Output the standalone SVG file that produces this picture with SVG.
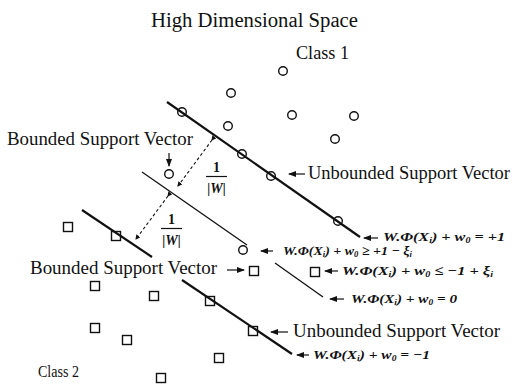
<svg xmlns="http://www.w3.org/2000/svg" width="517" height="385" viewBox="0 0 517 385">
<defs>
<style>
.t{font-family:"Liberation Serif","Times New Roman",serif;fill:#111;font-size:18.5px}
.m{font-family:"Liberation Serif","Times New Roman",serif;fill:#111;font-size:13px;font-weight:bold;font-style:italic}
.s{font-size:8px}
.c{fill:none;stroke:#111;stroke-width:1.4}
.q{fill:none;stroke:#111;stroke-width:1.4}
.hp{stroke:#111;stroke-width:2.2;fill:none}
.h0{stroke:#111;stroke-width:1.3;fill:none}
.da{stroke:#111;stroke-width:1.1;stroke-dasharray:3,2.5;fill:none}
.ar{stroke:#111;stroke-width:1.2;fill:none}
</style>
<marker id="ah" markerWidth="8" markerHeight="6" refX="7" refY="3" orient="auto" markerUnits="userSpaceOnUse">
<path d="M0,0 L8,3 L0,6 Z" fill="#111"/>
</marker>
<marker id="sh" markerWidth="5" markerHeight="5" refX="4" refY="2.5" orient="auto" markerUnits="userSpaceOnUse">
<path d="M0,0 L5,2.5 L0,5 Z" fill="#111"/>
</marker>
</defs>
<rect width="517" height="385" fill="#fff"/>

<text class="t" x="151" y="27" textLength="207" lengthAdjust="spacingAndGlyphs" style="font-size:20.5px">High Dimensional Space</text>

<g id="connectors">
<line class="hp" x1="167" y1="102" x2="360" y2="237"/>
<line class="h0" x1="142" y1="172" x2="247" y2="245"/>
<line class="h0" x1="275" y1="263" x2="323" y2="297"/>
<line class="hp" x1="82" y1="210" x2="152" y2="257"/>
<line class="hp" x1="182" y1="280" x2="292" y2="354"/>
<line class="da" x1="212" y1="140" x2="178" y2="186" marker-start="url(#sh)" marker-end="url(#sh)"/>
<line class="da" x1="168" y1="196" x2="136" y2="239" marker-start="url(#sh)" marker-end="url(#sh)"/>
<line class="ar" x1="169" y1="153" x2="169" y2="166" marker-end="url(#ah)"/>
<line class="ar" x1="305" y1="174" x2="289" y2="174" marker-end="url(#ah)"/>
<line class="ar" x1="378" y1="238" x2="364" y2="238" marker-end="url(#ah)"/>
<line class="ar" x1="273" y1="251" x2="261" y2="251" marker-end="url(#ah)"/>
<line class="ar" x1="227" y1="270" x2="244" y2="270" marker-end="url(#ah)"/>
<line class="ar" x1="338" y1="271" x2="325" y2="271" marker-end="url(#ah)"/>
<line class="ar" x1="344" y1="299" x2="330" y2="299" marker-end="url(#ah)"/>
<line class="ar" x1="288" y1="332" x2="271" y2="332" marker-end="url(#ah)"/>
<line class="ar" x1="309" y1="355" x2="297" y2="355" marker-end="url(#ah)"/>
</g>

<g id="class1">
<text class="t" x="296" y="59" textLength="53" lengthAdjust="spacingAndGlyphs">Class 1</text>
<circle class="c" cx="283" cy="71" r="4.3"/>
<circle class="c" cx="231" cy="93" r="4.3"/>
<circle class="c" cx="182" cy="112" r="4.3"/>
<circle class="c" cx="292" cy="115" r="4.3"/>
<circle class="c" cx="354" cy="116" r="4.3"/>
<circle class="c" cx="228" cy="126" r="4.3"/>
<circle class="c" cx="335" cy="139" r="4.3"/>
<circle class="c" cx="242" cy="154" r="4.3"/>
<circle class="c" cx="271" cy="176" r="4.3"/>
<circle class="c" cx="338" cy="221" r="4.3"/>
<circle class="c" cx="169" cy="174" r="4.3"/>
<circle class="c" cx="243" cy="250" r="4.3"/>
</g>

<g id="class2">
<text class="t" x="38" y="377" textLength="41" lengthAdjust="spacingAndGlyphs" style="font-size:17px">Class 2</text>
<rect class="q" x="63.5" y="222.5" width="9" height="9"/>
<rect class="q" x="111.5" y="231.5" width="9" height="9"/>
<rect class="q" x="90.5" y="281.5" width="9" height="9"/>
<rect class="q" x="149.5" y="291.5" width="9" height="9"/>
<rect class="q" x="205.5" y="296.5" width="9" height="9"/>
<rect class="q" x="90.5" y="323.5" width="9" height="9"/>
<rect class="q" x="122.5" y="335.5" width="9" height="9"/>
<rect class="q" x="248.5" y="326.5" width="9" height="9"/>
<rect class="q" x="214.5" y="353.5" width="9" height="9"/>
<rect class="q" x="156.5" y="373.5" width="9" height="9"/>
<rect class="q" x="249.5" y="266.5" width="9" height="9"/>
</g>

<g id="label-bounded-top">
<text class="t" x="7" y="145" textLength="186" lengthAdjust="spacingAndGlyphs">Bounded Support Vector</text>
</g>
<g id="label-bounded-bottom">
<text class="t" x="30" y="274" textLength="187" lengthAdjust="spacingAndGlyphs">Bounded Support Vector</text>
</g>
<g id="label-unbounded-top">
<text class="t" x="308" y="179" textLength="202" lengthAdjust="spacingAndGlyphs">Unbounded Support Vector</text>
</g>
<g id="label-unbounded-bottom">
<text class="t" x="293" y="337" textLength="207" lengthAdjust="spacingAndGlyphs">Unbounded Support Vector</text>
</g>

<g id="margin-upper">
<text class="m" x="216.5" y="172" text-anchor="middle" style="font-style:normal;font-size:14px">1</text>
<line x1="206" y1="176.5" x2="227" y2="176.5" stroke="#111" stroke-width="1.2"/>
<text class="m" x="216.5" y="193" text-anchor="middle" style="font-size:14px">|W|</text>
</g>
<g id="margin-lower">
<text class="m" x="171.5" y="224" text-anchor="middle" style="font-style:normal;font-size:14px">1</text>
<line x1="161" y1="228.5" x2="182" y2="228.5" stroke="#111" stroke-width="1.2"/>
<text class="m" x="171.5" y="245" text-anchor="middle" style="font-size:14px">|W|</text>
</g>

<g id="eq-plus1">
<text class="m" x="383" y="241" textLength="122" lengthAdjust="spacingAndGlyphs">W.Φ(X<tspan class="s" dy="2">i</tspan><tspan dy="-2">) + w</tspan><tspan class="s" dy="2">0</tspan><tspan dy="-2"> = +1</tspan></text>
</g>
<g id="eq-ge">
<text class="m" x="283" y="255" textLength="129" lengthAdjust="spacingAndGlyphs">W.Φ(X<tspan class="s" dy="2">i</tspan><tspan dy="-2">) + w</tspan><tspan class="s" dy="2">0</tspan><tspan dy="-2"> ≥ +1 − ξ</tspan><tspan class="s" dy="2">i</tspan></text>
</g>
<g id="eq-le">
<rect class="q" x="310.5" y="267.5" width="9" height="9"/>
<text class="m" x="342" y="275" textLength="151" lengthAdjust="spacingAndGlyphs">W.Φ(X<tspan class="s" dy="2">i</tspan><tspan dy="-2">) + w</tspan><tspan class="s" dy="2">0</tspan><tspan dy="-2"> ≤ −1 + ξ</tspan><tspan class="s" dy="2">i</tspan></text>
</g>
<g id="eq-zero">
<text class="m" x="351" y="303" textLength="106" lengthAdjust="spacingAndGlyphs">W.Φ(X<tspan class="s" dy="2">i</tspan><tspan dy="-2">) + w</tspan><tspan class="s" dy="2">0</tspan><tspan dy="-2"> = 0</tspan></text>
</g>
<g id="eq-minus1">
<text class="m" x="313" y="359" textLength="117" lengthAdjust="spacingAndGlyphs">W.Φ(X<tspan class="s" dy="2">i</tspan><tspan dy="-2">) + w</tspan><tspan class="s" dy="2">0</tspan><tspan dy="-2"> = −1</tspan></text>
</g>
</svg>
